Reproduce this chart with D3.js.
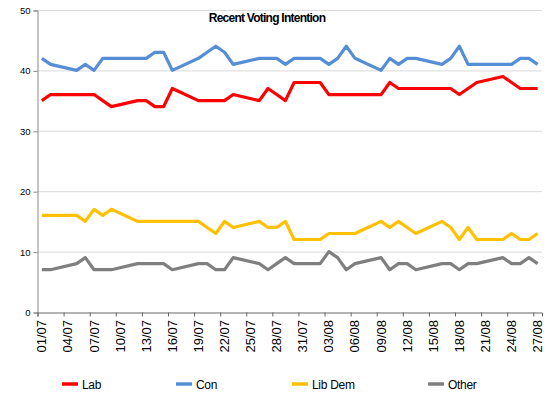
<!DOCTYPE html>
<html><head><meta charset="utf-8">
<script src="https://cdn.jsdelivr.net/npm/d3@7"></script>
<style>
html,body{margin:0;padding:0;background:#fff;}
svg{display:block;font-family:"Liberation Sans",Arial,sans-serif;}
</style></head>
<body><svg id="c" width="550" height="400"></svg>
<script>
// Poll dates (2010, weekdays)
const dates = ["01/07","02/07","05/07","06/07","07/07","08/07","09/07","12/07","13/07","14/07","15/07","16/07",
"19/07","20/07","21/07","22/07","23/07","26/07","27/07","28/07","29/07","30/07",
"02/08","03/08","04/08","05/08","06/08","09/08","10/08","11/08","12/08","13/08",
"16/08","17/08","18/08","19/08","20/08","23/08","24/08","25/08","26/08","27/08"];
const lab = [35,36,36,36,36,35,34,35,35,34,34,37, 35,35,35,35,36,35,37,36,35,38, 38,36,36,36,36,36,38,37,37,37, 37,37,36,37,38,39,38,37,37,37];
const con = [42,41,40,41,40,42,42,42,42,43,43,40, 42,43,44,43,41,42,42,42,41,42, 42,41,42,44,42,40,42,41,42,42, 41,42,44,41,41,41,41,42,42,41];
const libDem = [16,16,16,15,17,16,17,15,15,15,15,15, 15,14,13,15,14,15,14,14,15,12, 12,13,13,13,13,15,14,15,14,13, 15,14,12,14,12,12,13,12,12,13];
const other = [7,7,8,9,7,7,7,8,8,8,8,7, 8,8,7,7,9,8,7,8,9,8, 8,10,9,7,8,9,7,8,8,7, 8,8,7,8,8,9,8,8,9,8];
const seriesNames = ["Lab","Con","Lib Dem","Other"];
const seriesColors = ["#ff0000","#558ed5","#ffc000","#7f7f7f"];
const xTickLabels = ["01/07","04/07","07/07","10/07","13/07","16/07","19/07","22/07","25/07","28/07","31/07",
"03/08","06/08","09/08","12/08","15/08","18/08","21/08","24/08","27/08"];
const yTicks = [0,10,20,30,40,50];
const title = "Recent Voting Intention";

const parse = s => { const [d,m] = s.split("/").map(Number); return new Date(2010, m-1, d); };
const svg = d3.select("#c");
const start = parse("01/07"), end = d3.timeDay.offset(parse("27/08"), 1);
const x = d3.scaleTime().domain([start, end]).range([37.5, 542]);
const half = (x(d3.timeDay.offset(start,1)) - x(start)) / 2;
const y = d3.scaleLinear().domain([0,50]).range([312, 10]);

// gridlines
svg.append("g").selectAll("line").data(yTicks.filter(v=>v>0)).join("line")
  .attr("x1", 37.5).attr("x2", 542).attr("y1", d=>y(d)+0.5).attr("y2", d=>y(d)+0.5)
  .attr("stroke", "#d9d9d9").attr("stroke-width", 1);

// y axis
const yAx = svg.append("g").attr("transform","translate(37.5,0.5)")
  .call(d3.axisLeft(y).tickValues(yTicks).tickSize(4).tickPadding(3).tickFormat(d3.format("d")));
yAx.select(".domain").attr("stroke","#888");
yAx.selectAll(".tick line").attr("stroke","#888");
yAx.selectAll("text").attr("font-size","9.5px").attr("fill","#000").attr("font-family","Liberation Sans, Arial, sans-serif");

// x axis
const xTickDates = xTickLabels.map(parse);
const xAx = svg.append("g").attr("transform","translate(0,312.5)")
  .call(d3.axisBottom(x).tickValues(xTickDates).tickSize(4).tickFormat(""));
xAx.select(".domain").attr("stroke","#666");
xAx.selectAll(".tick line").attr("stroke","#666");
svg.append("g").selectAll("text").data(xTickLabels).join("text")
  .attr("transform", d => `translate(${x(parse(d))+half+4.5},320) rotate(-90)`)
  .attr("text-anchor","end").attr("font-size","13px").attr("fill","#000").text(d=>d);

// lines
const allSeries = [lab, con, libDem, other];
const line = d3.line().x((d,i)=>x(parse(dates[i]))+half).y(d=>y(d));
svg.append("g").selectAll("path").data(allSeries).join("path")
  .attr("d", d=>line(d)).attr("fill","none")
  .attr("stroke",(d,i)=>seriesColors[i]).attr("stroke-width",3.2)
  .attr("stroke-linejoin","round");

// title
svg.append("text").attr("x", 267).attr("y", 22).attr("text-anchor","middle")
  .attr("font-size","12px").attr("font-weight","bold").attr("letter-spacing","-0.75px").text(title);

// legend
const legX = [62, 176, 292, 428];
const lg = svg.append("g").selectAll("g").data(seriesNames).join("g")
  .attr("transform",(d,i)=>`translate(${legX[i]},384)`);
lg.append("line").attr("x1",0).attr("x2",16).attr("y1",0).attr("y2",0)
  .attr("stroke",(d,i)=>seriesColors[i]).attr("stroke-width",3.5);
lg.append("text").attr("x",20).attr("y",4.5).attr("font-size","12px").attr("letter-spacing","-0.3px").text(d=>d);
</script></body></html>
